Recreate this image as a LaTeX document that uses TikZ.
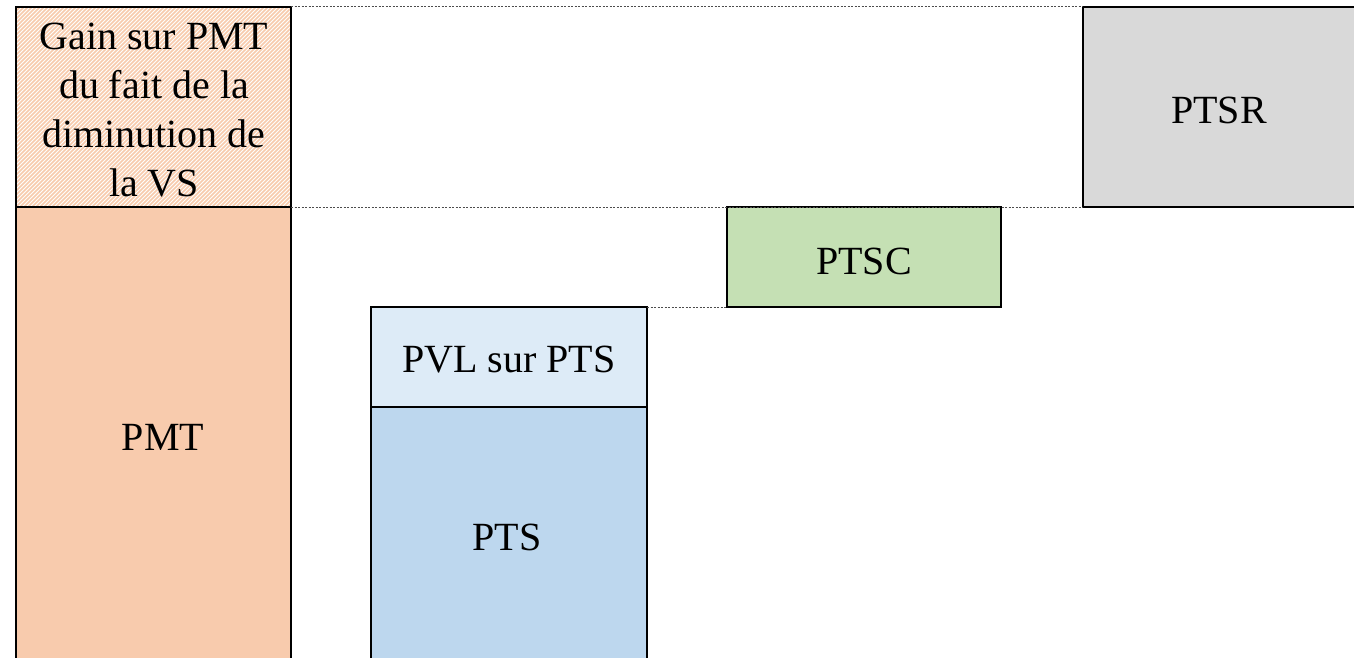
\documentclass[tikz,border=0pt]{standalone}
\usepackage{fontspec}
\setmainfont{Liberation Serif}
\definecolor{cOrange}{HTML}{F8CBAD}
\definecolor{cBlue}{HTML}{BDD7EE}
\definecolor{cLightBlue}{HTML}{DDEBF7}
\definecolor{cGreen}{HTML}{C5E0B4}
\definecolor{cGrey}{HTML}{D9D9D9}
\begin{document}
\begin{tikzpicture}[x=1pt,y=1pt,
  boxstyle/.style={draw=black,line width=1.6pt,inner sep=0pt,outer sep=0pt,
    font=\fontsize{40}{49}\selectfont,align=center},
  lbl/.style={font=\fontsize{40}{49}\selectfont},
  guide/.style={draw=gray!60!black,line width=1pt,dash pattern=on 2pt off 1.5pt},
  hatch/.style={path picture={
    \foreach \i in {-320,-316,...,320}
      \draw[cOrange,line width=1.7pt] ([xshift=\i pt]path picture bounding box.south west) -- ++(260,260);}}]
\useasboundingbox (0,0) rectangle (1354,-658);
\fill[white] (0,0) rectangle (1354,-658);
% boxes
\node[boxstyle,fill=white,hatch,minimum width=275,minimum height=200] (gain) at (153.5,-107) {};
\node[lbl,align=center] (gainlabel) at (154,-110) {Gain sur PMT\\du fait de la\\diminution de\\la VS};
\node[boxstyle,fill=cOrange,minimum width=275,minimum height=455] (pmt) at (153.5,-434.5) {};
\node[lbl] (pmtlabel) at (163,-437) {PMT};
\node[boxstyle,fill=cLightBlue,minimum width=276,minimum height=100] (pvl) at (509,-357) {};
\node[lbl] (pvllabel) at (509,-360) {PVL sur PTS};
\node[boxstyle,fill=cBlue,minimum width=276,minimum height=255] (pts) at (509,-534.5) {};
\node[lbl] (ptslabel) at (507,-537) {PTS};
\node[boxstyle,fill=cGreen,minimum width=274,minimum height=100] (ptsc) at (864,-257) {};
\node[lbl] (ptsclabel) at (864,-261) {PTSC};
\node[boxstyle,fill=cGrey,minimum width=280,minimum height=200] (ptsr) at (1223,-107) {};
\node[lbl] (ptsrlabel) at (1219,-110) {PTSR};
% guide lines
\draw[guide] (gain.north east) -- (ptsr.north west);
\draw[guide] (gain.south east) -- (ptsr.south west);
\draw[guide] (pvl.north east) -- (ptsc.south west);
\end{tikzpicture}
\end{document}
